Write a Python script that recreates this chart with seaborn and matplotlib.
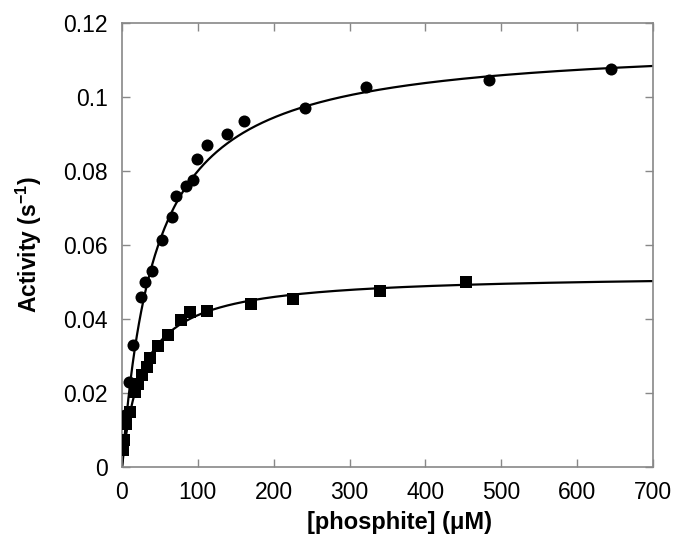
import numpy as np
import pandas as pd
import matplotlib
matplotlib.use("Agg")
import matplotlib.pyplot as plt
import seaborn as sns

# Data
circle_x = [4, 9.3, 15, 25.2, 30.5, 39.3, 52.5, 65.8, 71.5, 84.8, 94, 98.5, 111.7, 138.6, 160.7, 241, 322, 484, 645]
circle_y = [0.0140, 0.0230, 0.0331, 0.0459, 0.0499, 0.0530, 0.0614, 0.0676, 0.0732, 0.0760, 0.0777, 0.0833, 0.0869, 0.0899, 0.0935, 0.0970, 0.1027, 0.1045, 0.1077]
square_x = [1.3, 2.6, 5.3, 10.6, 17.2, 21.6, 26, 32.7, 37, 46.8, 60, 78, 90, 112, 169.5, 226, 339.5, 453]
square_y = [0.0047, 0.0072, 0.0117, 0.0149, 0.0203, 0.0225, 0.0250, 0.0270, 0.0295, 0.0326, 0.0356, 0.0398, 0.0418, 0.0422, 0.0440, 0.0453, 0.0476, 0.0500]

# Michaelis-Menten fit parameters
circle_vmax, circle_km = 0.1152, 44.0
square_vmax, square_km = 0.0522, 27.2

x_ticks = [0, 100, 200, 300, 400, 500, 600, 700]
y_ticks = [0, 0.02, 0.04, 0.06, 0.08, 0.1, 0.12]
y_ticklabels = ["0", "0.02", "0.04", "0.06", "0.08", "0.1", "0.12"]

sns.set_style("ticks")
plt.rcParams["font.family"] = ["Liberation Sans", "DejaVu Sans"]
plt.rcParams["mathtext.fontset"] = "custom"
plt.rcParams["mathtext.rm"] = "Liberation Sans"
plt.rcParams["mathtext.bf"] = "Liberation Sans:bold"
plt.rcParams["text.color"] = "black"
plt.rcParams["axes.labelcolor"] = "black"
plt.rcParams["xtick.labelcolor"] = "black"
plt.rcParams["ytick.labelcolor"] = "black"

fig = plt.figure(figsize=(6.76, 5.35), dpi=100)
ax = fig.add_axes([122/676, 1 - 467/535, (653 - 122)/676, (467 - 23)/535])

xfit = np.linspace(0, 700, 500)
fit_df = pd.DataFrame({
    "x": np.concatenate([xfit, xfit]),
    "y": np.concatenate([circle_vmax * xfit / (circle_km + xfit),
                         square_vmax * xfit / (square_km + xfit)]),
    "s": ["c"] * len(xfit) + ["s"] * len(xfit),
})
sns.lineplot(data=fit_df, x="x", y="y", units="s", estimator=None,
             color="black", linewidth=1.6, ax=ax, legend=False)

sns.scatterplot(x=circle_x, y=circle_y, marker="o", s=75, color="black",
                edgecolor="black", linewidth=0, ax=ax, zorder=3)
sns.scatterplot(x=square_x, y=square_y, marker="s", s=75, color="black",
                edgecolor="black", linewidth=0, ax=ax, zorder=3)

ax.set_xlim(0, 700)
ax.set_ylim(0, 0.12)
ax.set_xticks(x_ticks)
ax.set_yticks(y_ticks)
ax.set_yticklabels(y_ticklabels)
ax.tick_params(direction="in", length=6, width=1, color="#888888",
               labelcolor="black", labelsize=16.5, top=True, right=True, pad=10)
for sp in ax.spines.values():
    sp.set_color("#888888")
    sp.set_linewidth(1.2)

ax.set_xlabel("[phosphite] (\u03bcM)", fontsize=17, fontweight="bold", labelpad=5, color="black")
ax.xaxis.label.set_x(0.523)
ax.set_ylabel("Activity (s$^{\\mathbf{-1}}$)", fontsize=16.5, fontweight="bold", labelpad=14, color="black")

fig.savefig("out.png", dpi=100)
